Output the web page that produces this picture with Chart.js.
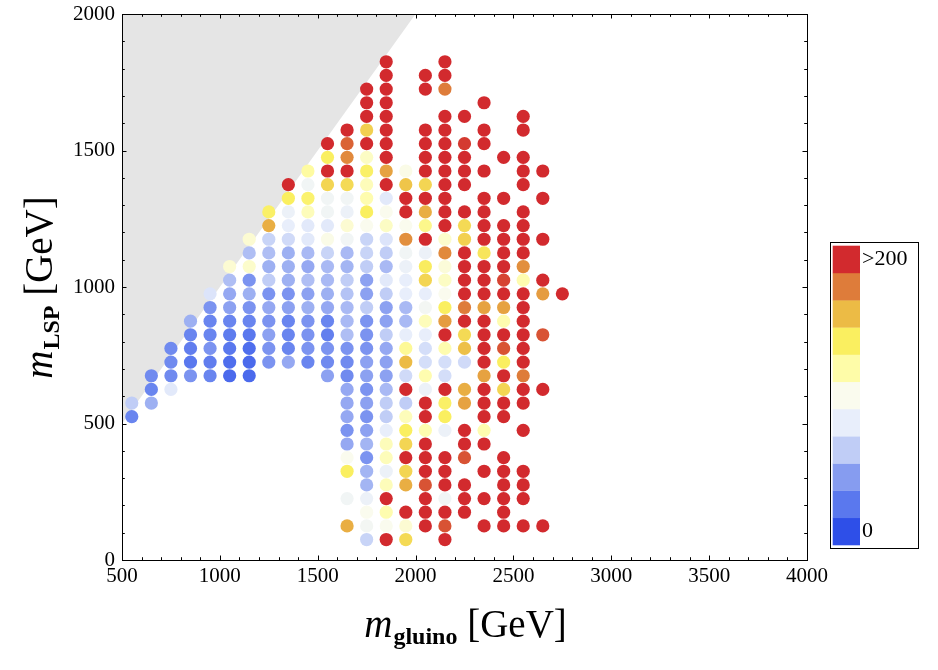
<!DOCTYPE html>
<html>
<head>
<meta charset="utf-8">
<script src="https://cdn.jsdelivr.net/npm/chart.js@4.4.1/dist/chart.umd.min.js"></script>
<style>
body { margin: 0; background: #fff; }
canvas { display: block; }
</style>
</head>
<body>
<canvas id="myChart" width="938" height="670"></canvas>
<script>
// gluino mass of each column of grid points [GeV]
const gluinoMass = [550, 650, 750, 850, 950, 1050, 1150, 1250, 1350, 1450, 1550, 1650,
	1750, 1850, 1950, 2050, 2150, 2250, 2350, 2450, 2550, 2650, 2750];

// LSP masses of the points in each column [GeV]
const lspMass = [
	[525, 575],
	[575, 625, 675],
	[625, 675, 725, 775],
	[675, 725, 775, 825, 875],
	[675, 725, 775, 825, 875, 925, 975],
	[675, 725, 775, 825, 875, 925, 975, 1025, 1075],
	[675, 725, 775, 825, 875, 925, 975, 1025, 1075, 1125, 1175],
	[725, 775, 825, 875, 925, 975, 1025, 1075, 1125, 1175, 1225, 1275],
	[725, 775, 825, 875, 925, 975, 1025, 1075, 1125, 1175, 1225, 1275, 1325, 1375],
	[725, 775, 825, 875, 925, 975, 1025, 1075, 1125, 1175, 1225, 1275, 1325, 1375, 1425],
	[675, 725, 775, 825, 875, 925, 975, 1025, 1075, 1125, 1175, 1225, 1275, 1325, 1375, 1425, 1475, 1525],
	[125, 225, 325, 375, 425, 475, 525, 575, 625, 675, 725, 775, 825, 875, 925, 975, 1025, 1075, 1125,
		1175, 1225, 1275, 1325, 1375, 1425, 1475, 1525, 1575],
	[75, 125, 175, 225, 275, 325, 375, 425, 475, 525, 575, 625, 675, 725, 775, 825, 875, 925, 975, 1025,
		1075, 1125, 1175, 1225, 1275, 1325, 1375, 1425, 1475, 1525, 1575, 1625, 1675, 1725],
	[75, 125, 175, 225, 275, 325, 375, 425, 475, 525, 575, 625, 675, 725, 775, 825, 875, 925, 975, 1025,
		1075, 1125, 1175, 1225, 1275, 1325, 1375, 1425, 1475, 1525, 1575, 1625, 1675, 1725, 1775, 1825],
	[75, 125, 175, 275, 325, 375, 425, 475, 525, 575, 625, 675, 725, 775, 825, 875, 925, 975, 1025, 1075,
		1125, 1175, 1225, 1275, 1325, 1375, 1425],
	[125, 175, 225, 275, 325, 375, 425, 475, 525, 575, 625, 675, 725, 775, 825, 875, 925, 975, 1025, 1075,
		1125, 1175, 1225, 1275, 1325, 1375, 1425, 1475, 1525, 1575, 1725, 1775],
	[75, 125, 175, 225, 275, 325, 375, 475, 525, 575, 625, 675, 725, 775, 825, 875, 925, 975, 1025, 1075,
		1125, 1175, 1225, 1275, 1325, 1375, 1425, 1475, 1525, 1575, 1625, 1725, 1775, 1825],
	[175, 225, 275, 375, 425, 475, 575, 625, 725, 775, 825, 875, 925, 975, 1025, 1075, 1125, 1175, 1225,
		1275, 1375, 1425, 1475, 1525, 1625],
	[125, 225, 325, 425, 475, 525, 575, 625, 675, 725, 775, 825, 875, 925, 975, 1025, 1075, 1125, 1175,
		1225, 1275, 1325, 1425, 1525, 1575, 1675],
	[125, 175, 225, 275, 325, 375, 525, 575, 625, 675, 725, 775, 825, 875, 925, 975, 1025, 1075, 1125,
		1175, 1225, 1325, 1475],
	[125, 225, 275, 325, 475, 575, 625, 675, 725, 775, 825, 875, 925, 975, 1025, 1075, 1125, 1175, 1225,
		1275, 1375, 1425, 1475, 1575, 1625],
	[125, 625, 825, 975, 1025, 1175, 1325, 1425],
	[975]
];

// colour-coded value of each point (0 ... >200)
const signal = [
	[27, 60],
	[48, 27, 30],
	[77, 30, 30, 30],
	[35, 20, 23, 27, 48],
	[27, 23, 35, 27, 27, 35, 74],
	[13, 15, 20, 22, 27, 42, 45, 54, 108],
	[13, 13, 15, 20, 27, 35, 48, 35, 110, 54, 108],
	[35, 35, 42, 35, 45, 35, 60, 48, 54, 64, 164, 138],
	[45, 27, 27, 27, 42, 35, 48, 48, 48, 68, 80, 84, 140, 210],
	[27, 35, 35, 35, 48, 42, 54, 45, 52, 77, 77, 115, 136, 90, 122],
	[42, 30, 35, 24, 27, 45, 48, 52, 52, 64, 102, 77, 90, 90, 150, 210, 140, 210],
	[164, 90, 140, 100, 45, 35, 45, 45, 45, 30, 30, 35, 54, 52, 52, 56, 60, 50, 52,
		90, 108, 84, 90, 148, 210, 176, 186, 210],
	[64, 92, 100, 84, 50, 50, 35, 50, 42, 35, 42, 35, 42, 42, 35, 35, 35, 60, 42, 42,
		60, 64, 64, 100, 140, 118, 115, 138, 112, 210, 152, 210, 210, 210],
	[210, 100, 118, 210, 115, 84, 115, 115, 80, 60, 60, 52, 42, 42, 45, 60, 42, 42, 60, 77,
		52, 60, 74, 112, 100, 77, 210, 168, 210, 210, 210, 210, 210, 210, 210, 210],
	[148, 108, 210, 164, 150, 210, 150, 140, 115, 60, 210, 68, 160, 125, 80, 52, 52, 80, 80, 84,
		90, 174, 100, 210, 210, 156, 102],
	[210, 210, 210, 190, 210, 210, 210, 118, 210, 210, 84, 118, 70, 70, 80, 115, 92, 80, 150, 141,
		84, 210, 128, 164, 210, 150, 210, 210, 210, 210, 210, 210],
	[210, 190, 210, 90, 210, 210, 210, 84, 140, 138, 210, 70, 70, 118, 210, 170, 140, 100, 112, 106,
		176, 110, 210, 210, 210, 210, 210, 210, 210, 210, 210, 180, 210, 210],
	[210, 210, 210, 190, 210, 210, 168, 164, 68, 158, 148, 210, 180, 210, 210, 210, 210, 152, 148,
		210, 210, 210, 210, 196, 210],
	[210, 210, 210, 210, 118, 210, 210, 210, 168, 210, 210, 210, 210, 168, 210, 210, 210, 144, 210,
		210, 210, 210, 210, 210, 210, 210],
	[210, 210, 210, 210, 210, 210, 210, 210, 150, 210, 140, 190, 210, 118, 168, 210, 194, 210, 210,
		210, 210, 210, 210],
	[210, 210, 210, 210, 210, 210, 210, 180, 210, 210, 210, 210, 210, 210, 118, 174, 210, 210, 210,
		210, 210, 210, 210, 210, 210],
	[210, 210, 190, 170, 210, 210, 210, 210],
	[210]
];

// kinematically forbidden corner, m_LSP > m_gluino
const forbiddenGluino = [500, 2000];
const forbiddenLsp = [500, 2000];

const xTickLabels = [500, 1000, 1500, 2000, 2500, 3000, 3500, 4000];
const yTickLabels = [0, 500, 1000, 1500, 2000];
const legendLabels = ['>200', '0'];

// colour bar bins, bottom (0) to top (>200)
const binColors = ['#2e4fe8', '#5a78ee', '#869cf0', '#c0cdf6', '#e8eefb', '#fafbee',
	'#fefca8', '#faef60', '#ecbb45', '#de7c3a', '#d22a2e'];

function hexRgb(h) {
	return [parseInt(h.substr(1, 2), 16), parseInt(h.substr(3, 2), 16), parseInt(h.substr(5, 2), 16)];
}

function valueColor(v) {
	var lvl = Math.min(v / 20, 10);
	var i = Math.min(Math.floor(lvl), 9);
	var t = lvl - i;
	var a = hexRgb(binColors[i]), b = hexRgb(binColors[i + 1]);
	var c = a.map(function(x, k) { return Math.round(x + (b[k] - x) * t); });
	return 'rgb(' + c[0] + ',' + c[1] + ',' + c[2] + ')';
}

var points = [], colors = [];
gluinoMass.forEach(function(mg, i) {
	lspMass[i].forEach(function(ml, j) {
		points.push({ x: mg, y: ml });
		colors.push(valueColor(signal[i][j]));
	});
});

var serif = "'Liberation Serif', 'DejaVu Serif', serif";

// frame, inward ticks, axis titles and colour bar
var decorations = {
	id: 'decorations',
	afterDraw: function(chart) {
		var ctx = chart.ctx, area = chart.chartArea;
		var xs = chart.scales.x, ys = chart.scales.y;
		ctx.save();
		ctx.strokeStyle = '#000';
		ctx.lineWidth = 1;
		ctx.strokeRect(Math.round(area.left) + 0.5, Math.round(area.top) + 0.5,
			Math.round(area.right - area.left), Math.round(area.bottom - area.top));

		ctx.beginPath();
		for (var v = xs.min; v <= xs.max; v += 100) {
			var px = Math.round(xs.getPixelForValue(v)) + 0.5;
			var len = (v % 500 === 0) ? 4.5 : 2.8;
			ctx.moveTo(px, area.bottom); ctx.lineTo(px, area.bottom - len);
			ctx.moveTo(px, area.top); ctx.lineTo(px, area.top + len);
		}
		for (var w = ys.min; w <= ys.max; w += 100) {
			var py = Math.round(ys.getPixelForValue(w)) + 0.5;
			var l2 = (w % 500 === 0) ? 4.5 : 2.8;
			ctx.moveTo(area.left, py); ctx.lineTo(area.left + l2, py);
			ctx.moveTo(area.right, py); ctx.lineTo(area.right - l2, py);
		}
		ctx.stroke();

		// x title
		ctx.fillStyle = '#000';
		ctx.textBaseline = 'alphabetic';
		var big = '39px ' + serif, bigI = 'italic 39px ' + serif, sub = 'bold 24px ' + serif;
		ctx.font = bigI; var wm = ctx.measureText('m').width;
		ctx.font = sub; var wg = ctx.measureText('gluino').width;
		ctx.font = big; var wu = ctx.measureText(' [GeV]').width;
		var x0 = 465 - (wm + wg + wu) / 2;
		ctx.font = bigI; ctx.fillText('m', x0, 637);
		ctx.font = sub; ctx.fillText('gluino', x0 + wm + 1, 644);
		ctx.font = big; ctx.fillText(' [GeV]', x0 + wm + 1 + wg, 637);

		// y title
		ctx.save();
		ctx.translate(52, 288);
		ctx.rotate(-Math.PI / 2);
		ctx.font = sub; var wl = ctx.measureText('LSP').width;
		var y0 = -(wm + wl + wu) / 2;
		ctx.font = bigI; ctx.fillText('m', y0, 0);
		ctx.font = sub; ctx.fillText('LSP', y0 + wm + 1, 7);
		ctx.font = big; ctx.fillText(' [GeV]', y0 + wm + 1 + wl, 0);
		ctx.restore();

		// colour bar
		var top = 245.7, bottom = 545, binH = (bottom - top) / binColors.length;
		binColors.forEach(function(c, k) {
			ctx.fillStyle = c;
			ctx.fillRect(832.7, bottom - (k + 1) * binH, 27.3, binH + 0.3);
		});
		ctx.strokeStyle = '#000';
		ctx.strokeRect(830.5, 242.5, 88, 306);
		ctx.fillStyle = '#000';
		ctx.font = '22px ' + serif;
		ctx.textBaseline = 'middle';
		ctx.fillText(legendLabels[0], 862, top + binH / 2);
		ctx.fillText(legendLabels[1], 862, bottom - binH / 2);
		ctx.restore();
	}
};

function plainLabel(v) { return String(v); }

var ctx = document.getElementById('myChart').getContext('2d');
new Chart(ctx, {
	type: 'scatter',
	data: {
		datasets: [{
			type: 'line',
			data: forbiddenGluino.map(function(g, i) { return { x: g, y: forbiddenLsp[i] }; }),
			fill: 'end',
			backgroundColor: '#e5e5e5',
			borderWidth: 0,
			pointRadius: 0,
			order: 2
		}, {
			data: points,
			pointRadius: 6.6,
			pointBorderWidth: 0,
			pointBackgroundColor: colors,
			order: 1
		}]
	},
	options: {
		responsive: false,
		animation: false,
		devicePixelRatio: 1,
		layout: { padding: { left: 0, right: 131, top: 14, bottom: 0 } },
		plugins: { legend: { display: false }, tooltip: { enabled: false } },
		scales: {
			x: {
				type: 'linear', min: 500, max: 4000,
				afterBuildTicks: function(s) { s.ticks = xTickLabels.map(function(v) { return { value: v }; }); },
				afterFit: function(s) { s.height = 110; s.paddingLeft = 0; s.paddingRight = 0; },
				grid: { display: false, drawTicks: false },
				border: { display: false },
				ticks: { font: { family: serif, size: 21 }, color: '#000', padding: 4, maxRotation: 0,
					autoSkip: false, callback: plainLabel }
			},
			y: {
				type: 'linear', min: 0, max: 2000,
				afterBuildTicks: function(s) { s.ticks = yTickLabels.map(function(v) { return { value: v }; }); },
				afterFit: function(s) { s.width = 122; s.paddingTop = 0; s.paddingBottom = 0; },
				grid: { display: false, drawTicks: false },
				border: { display: false },
				ticks: { font: { family: serif, size: 21 }, color: '#000', padding: 7, autoSkip: false,
					callback: plainLabel }
			}
		}
	},
	plugins: [decorations]
});
</script>
</body>
</html>
